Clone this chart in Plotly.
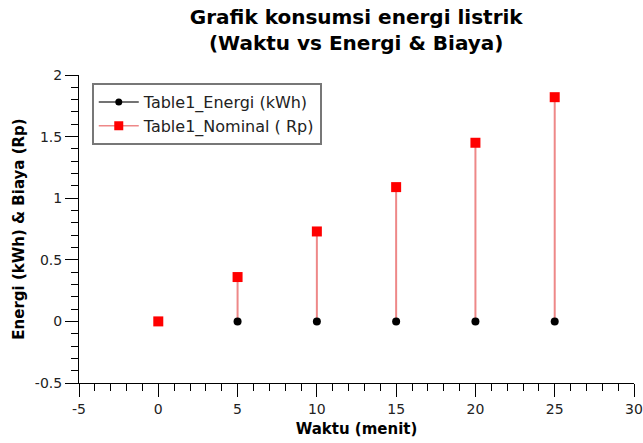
import plotly.graph_objects as go

waktu = [0, 5, 10, 15, 20, 25]
energi = [0, 0, 0, 0, 0, 0]
nominal = [0, 0.36, 0.73, 1.09, 1.45, 1.82]

x_tickvals = [-5, 0, 5, 10, 15, 20, 25, 30]
x_ticktext = ["-5", "0", "5", "10", "15", "20", "25", "30"]
y_tickvals = [-0.5, 0, 0.5, 1, 1.5, 2]
y_ticktext = ["-0.5", "0", "0.5", "1", "1.5", "2"]

name_e = "Table1_Energi (kWh)"
name_n = "Table1_Nominal ( Rp)"

fig = go.Figure()

# stems for nominal
sx, sy = [], []
for x, y in zip(waktu, nominal):
    sx += [x, x, None]
    sy += [0, y, None]
fig.add_trace(go.Scatter(x=sx, y=sy, mode="lines", line=dict(color="#ee8888", width=2),
                         showlegend=False, hoverinfo="skip"))
fig.add_trace(go.Scatter(x=waktu, y=energi, mode="markers", name=name_e,
                         marker=dict(color="black", size=8, symbol="circle"), showlegend=False))
fig.add_trace(go.Scatter(x=waktu, y=nominal, mode="markers", name=name_n,
                         marker=dict(color="#ff0000", size=10, symbol="square"), showlegend=False))
# legend entries
fig.add_trace(go.Scatter(x=[None], y=[None], mode="lines+markers", name=name_e,
                         line=dict(color="#444444", width=1.5),
                         marker=dict(color="black", size=7, symbol="circle")))
fig.add_trace(go.Scatter(x=[None], y=[None], mode="lines+markers", name=name_n,
                         line=dict(color="#ee8888", width=1.5),
                         marker=dict(color="#ff0000", size=9, symbol="square")))

axis_common = dict(showgrid=False, zeroline=False, showline=True, linecolor="black", linewidth=1,
                   ticks="outside", ticklen=13, tickcolor="black", automargin=False,
                   tickfont=dict(family="DejaVu Sans", size=14, color="#222"))

fig.update_layout(
    width=643, height=443,
    margin=dict(l=79, r=9, t=75, b=60),
    plot_bgcolor="white", paper_bgcolor="white",
    title=dict(text="<b>Grafik konsumsi energi listrik<br>(Waktu vs Energi & Biaya)</b>",
               x=0.554, xanchor="center", y=0.945, yanchor="top", automargin=False,
               font=dict(family="DejaVu Sans", size=20, color="black")),
    xaxis=dict(range=[-5, 30], tickvals=x_tickvals, ticktext=x_ticktext,
               title=dict(text="<b>Waktu (menit)</b>", standoff=7,
                          font=dict(family="DejaVu Sans", size=15, color="black")),
               minor=dict(dtick=1, ticks="outside", ticklen=7, tickcolor="black"),
               **axis_common),
    yaxis=dict(range=[-0.5, 2], tickvals=y_tickvals, ticktext=y_ticktext,
               title=dict(text="<b>Energi (kWh) & Biaya (Rp)</b>", standoff=6,
                          font=dict(family="DejaVu Sans", size=15, color="black")),
               minor=dict(dtick=0.1, ticks="outside", ticklen=7, tickcolor="black"),
               **axis_common),
    legend=dict(x=0.023, y=0.974, xanchor="left", yanchor="top",
                bordercolor="#777777", borderwidth=2, bgcolor="white",
                font=dict(family="DejaVu Sans", size=16, color="#222"),
                tracegroupgap=0, itemwidth=40),
)

fig.write_html("out.html", config={"displayModeBar": False},
               post_script="document.body.style.margin='0';")
